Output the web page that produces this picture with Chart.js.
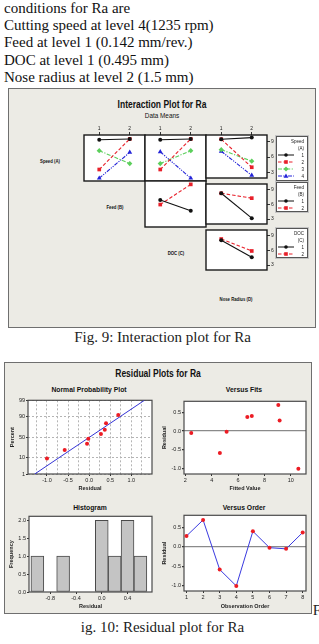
<!DOCTYPE html>
<html>
<head>
<meta charset="utf-8">
<title>Interaction and residual plots for Ra</title>
<script src="https://cdn.jsdelivr.net/npm/chart.js@4.4.1/dist/chart.umd.min.js"></script>
<style>
  body { margin: 0; width: 319px; height: 644px; position: relative; overflow: hidden; background: #fff; }
  .para { position: absolute; left: 4px; top: 0; font: 15px/17.2px "Liberation Serif", "Times New Roman", serif; color: #111; white-space: nowrap; }
  .box { position: absolute; box-sizing: border-box; background: #ecebe5; border: 1.5px solid #6f6f6f; }
  .t { position: absolute; white-space: nowrap; font-family: "Liberation Sans", Arial, sans-serif; color: #111; transform: translate(-50%, -50%) scaleX(0.85); }
  .cap { position: absolute; white-space: nowrap; font: 15px "Liberation Serif", "Times New Roman", serif; color: #222; transform: translate(-50%, -50%); }
  canvas { position: absolute; }
  .legend { position: absolute; box-sizing: border-box; background: #fff; border: 1px solid #555; box-shadow: 0 0 0 1px #c4c4c4; }
  .legend span { position: absolute; right: 3px; font: 4.5px "Liberation Sans", Arial, sans-serif; color: #222; transform: translateY(-50%); }
  .legend svg { position: absolute; left: 1px; }
</style>
</head>
<body>
<div class="para">conditions for Ra are<br>Cutting speed at level 4(1235 rpm)<br>Feed at level 1 (0.142 mm/rev.)<br>DOC at level 1 (0.495 mm)<br>Nose radius at level 2 (1.5 mm)</div>

<div class="box" style="left:8px;top:88px;width:308px;height:240px"></div>
<div class="t" style="left:162px;top:104px;font-size:10px;font-weight:bold">Interaction Plot for Ra</div>
<div class="t" style="left:162px;top:114.5px;font-size:7.5px">Data Means</div>
<div class="t" style="left:50px;top:161px;font-size:5px;font-weight:bold">Speed (A)</div>
<div class="t" style="left:114.5px;top:207px;font-size:5px;font-weight:bold">Feed (B)</div>
<div class="t" style="left:175.5px;top:253px;font-size:5px;font-weight:bold">DOC (C)</div>
<div class="t" style="left:236px;top:299px;font-size:5px;font-weight:bold">Nose Radius (D)</div>
<div class="cap" style="left:162.5px;top:337px">Fig. 9: Interaction plot for Ra</div>

<div class="box" style="left:4px;top:362px;width:308px;height:252px"></div>
<div class="t" style="left:158px;top:373.3px;font-size:10px;font-weight:bold">Residual Plots for Ra</div>
<div class="t" style="left:89px;top:389px;font-size:8px;font-weight:bold">Normal Probability Plot</div>
<div class="t" style="left:244px;top:389px;font-size:8px;font-weight:bold">Versus Fits</div>
<div class="t" style="left:89.7px;top:506.7px;font-size:8px;font-weight:bold">Histogram</div>
<div class="t" style="left:244px;top:506.7px;font-size:8px;font-weight:bold">Versus Order</div>
<div class="cap" style="left:162.5px;top:627px">ig. 10: Residual plot for Ra</div>
<div class="cap" style="left:317px;top:610px">F</div>

<script>
// mean Ra for each level of the row factor, at level 1 and 2 of the column factor
var levelLabels = ['1', '2'];
var speedByFeed = [[9.35, 9.5], [4.05, 9.5], [7.4, 5.1], [2.5, 7.1]];
var speedByDoc = [[9.35, 9.5], [4.05, 9.5], [5.1, 7.4], [7.2, 2.5]];
var speedByNose = [[9.4, 9.7], [9.4, 4.05], [7.4, 5.2], [7.1, 2.5]];
var feedByDoc = [[6.8, 4.9], [6.0, 9.6]];
var feedByNose = [[8.3, 3.2], [8.3, 7.3]];
var docByNose = [[8.1, 4.6], [8.35, 5.9]];
var speedLevels = ['1', '2', '3', '4'];
var feedLevels = ['1', '2'];
var docLevels = ['1', '2'];

// residuals, in observation order
var obsOrder = [1, 2, 3, 4, 5, 6, 7, 8];
var residByOrder = [0.28, 0.69, -0.58, -1.0, 0.4, -0.02, -0.05, 0.37];
var fittedByOrder = [9.15, 9.05, 4.62, 10.57, 7.04, 5.13, 2.45, 6.7];
var probPercent = [9, 21, 34, 46, 58, 68, 81, 92];
var probTicks = [1, 10, 50, 90, 99];
var fitLineResid = [-1.29, 1.31];
var fitLinePercent = [1, 99];
var histBins = [-1.0, -0.8, -0.6, -0.4, -0.2, 0.0, 0.2, 0.4, 0.6];
var histCounts = [1, 0, 1, 0, 0, 2, 1, 2, 1];

var seriesColors = ['#111111', '#e8202a', '#5ccf5c', '#2323d8'];
var seriesDash = [[], [3.5, 2], [4, 1.5, 1.2, 1.5], [4, 1.2, 1.2, 1.2, 1.2, 1.2]];
var seriesPoint = ['circle', 'rect', 'rectRot', 'triangle'];
var seriesRadius = [2, 2.6, 2.6, 2.8];

Chart.defaults.font.family = '"Liberation Sans", Arial, sans-serif';
Chart.defaults.color = '#222';

// white plot area with a dark frame, like minitab panels
Chart.register({
    id: 'frame',
    defaults: { fill: '#ffffff', color: '#333333', width: 1 },
    beforeDraw: function(chart, args, opts) {
        var a = chart.chartArea, ctx = chart.ctx;
        ctx.save();
        ctx.fillStyle = opts.fill;
        ctx.fillRect(a.left, a.top, a.right - a.left, a.bottom - a.top);
        ctx.restore();
    },
    beforeDatasetsDraw: function(chart, args, opts) {
        var a = chart.chartArea, ctx = chart.ctx;
        ctx.save();
        ctx.strokeStyle = opts.color;
        ctx.lineWidth = opts.width;
        ctx.strokeRect(a.left, a.top, a.right - a.left, a.bottom - a.top);
        ctx.restore();
    }
});

// normal probability axis (values in percent)
function probit(p) {
    var a = [-39.6968302866538, 220.946098424521, -275.928510446969, 138.357751867269, -30.6647980661472, 2.50662827745924];
    var b = [-54.4760987982241, 161.585836858041, -155.698979859887, 66.8013118877197, -13.2806815528857];
    var c = [-0.00778489400243029, -0.322396458041136, -2.40075827716184, -2.54973253934373, 4.37466414146497, 2.93816398269878];
    var d = [0.00778469570904146, 0.32246712907004, 2.445134137143, 3.75440866190742];
    var q, r;
    if (p < 0.02425 || p > 0.97575) {
        q = Math.sqrt(-2 * Math.log(p < 0.5 ? p : 1 - p));
        r = (((((c[0] * q + c[1]) * q + c[2]) * q + c[3]) * q + c[4]) * q + c[5]) / ((((d[0] * q + d[1]) * q + d[2]) * q + d[3]) * q + 1);
        return p < 0.5 ? r : -r;
    }
    q = p - 0.5;
    r = q * q;
    return (((((a[0] * r + a[1]) * r + a[2]) * r + a[3]) * r + a[4]) * r + a[5]) * q / (((((b[0] * r + b[1]) * r + b[2]) * r + b[3]) * r + b[4]) * r + 1);
}

class ProbabilityScale extends Chart.LinearScale {
    getPixelForValue(value) {
        var lo = probit(this.min / 100), hi = probit(this.max / 100);
        return this.getPixelForDecimal((probit(value / 100) - lo) / (hi - lo));
    }
    getValueForPixel(pixel) {
        var lo = this.min, hi = this.max;
        for (var i = 0; i < 40; i++) {
            var mid = (lo + hi) / 2;
            if ((this.getPixelForValue(mid) - pixel) * (this.getPixelForValue(hi) - pixel) > 0) hi = mid; else lo = mid;
        }
        return (lo + hi) / 2;
    }
}
ProbabilityScale.id = 'probability';
Chart.register(ProbabilityScale);

function addCanvas(left, top, w, h) {
    var c = document.createElement('canvas');
    c.width = w;
    c.height = h;
    c.style.left = left + 'px';
    c.style.top = top + 'px';
    c.style.width = w + 'px';
    c.style.height = h + 'px';
    document.body.appendChild(c);
    return c;
}

// ---------- Fig. 9 interaction panels ----------
var panelLeft = 84, panelTop = 135, panelW = 61, panelH = 46;
var topAxisH = 14, rightAxisW = 12;
var panels = [
    { row: 0, col: 0, values: speedByFeed },
    { row: 0, col: 1, values: speedByDoc },
    { row: 0, col: 2, values: speedByNose },
    { row: 1, col: 1, values: feedByDoc },
    { row: 1, col: 2, values: feedByNose },
    { row: 2, col: 2, values: docByNose }
];

panels.forEach(function(p) {
    var hasTop = p.row === 0, hasRight = p.col === 2;
    var canvas = addCanvas(
        panelLeft + p.col * panelW - 1,
        panelTop + p.row * panelH - 1 - (hasTop ? topAxisH : 0),
        panelW + 2 + (hasRight ? rightAxisW : 0),
        panelH + 2 + (hasTop ? topAxisH : 0));
    new Chart(canvas, {
        type: 'line',
        data: {
            labels: levelLabels,
            datasets: p.values.map(function(v, i) {
                return {
                    label: String(i + 1),
                    data: v,
                    borderColor: seriesColors[i],
                    backgroundColor: seriesColors[i],
                    borderWidth: 1.1,
                    borderDash: seriesDash[i],
                    pointStyle: seriesPoint[i],
                    pointRadius: seriesRadius[i],
                    pointBorderWidth: 0
                };
            })
        },
        options: {
            responsive: false,
            animation: false,
            events: [],
            layout: { padding: 1, autoPadding: false },
            plugins: {
                legend: { display: false },
                tooltip: { enabled: false },
                frame: { color: '#1a1a1a', width: 1.4 }
            },
            scales: {
                x: {
                    type: 'category',
                    position: 'top',
                    offset: true,
                    display: hasTop,
                    grid: { drawOnChartArea: false, tickLength: 3, color: '#333' },
                    border: { display: false },
                    ticks: { padding: 0, maxRotation: 0, font: { size: 5 } },
                    afterFit: function(s) { s.height = hasTop ? topAxisH : 0; }
                },
                y: {
                    type: 'linear',
                    position: 'right',
                    min: 2,
                    max: 10.2,
                    display: hasRight,
                    grid: { drawOnChartArea: false, tickLength: 3, color: '#333' },
                    border: { display: false },
                    ticks: { stepSize: 3, includeBounds: false, padding: 1, font: { size: 5 } },
                    afterFit: function(s) { s.width = hasRight ? rightAxisW : 0; }
                }
            }
        }
    });
});

// legends beside the panels
function sampleSvg(i, y) {
    var c = seriesColors[i];
    var dash = seriesDash[i].length ? ' stroke-dasharray="' + seriesDash[i].join(',') + '"' : '';
    var marks = [
        '<circle cx="8" cy="3" r="1.8" fill="' + c + '"/>',
        '<rect x="6.2" y="1.2" width="3.6" height="3.6" fill="' + c + '"/>',
        '<polygon points="8,0.5 10.5,3 8,5.5 5.5,3" fill="' + c + '"/>',
        '<polygon points="8,0.6 10.4,4.8 5.6,4.8" fill="' + c + '"/>'
    ];
    var wrap = document.createElement('div');
    wrap.innerHTML = '<svg width="17" height="6" viewBox="0 0 17 6"><line x1="0" y1="3" x2="16" y2="3" stroke="' + c + '" stroke-width="1"' + dash + '/>' + marks[i] + '</svg>';
    var svg = wrap.firstChild;
    svg.style.top = (y - 3) + 'px';
    return svg;
}

function addLegendText(box, text, y) {
    var s = document.createElement('span');
    s.textContent = text;
    s.style.top = y + 'px';
    box.appendChild(s);
}

var legends = [
    { title: 'Speed', sub: '(A)', labels: speedLevels, top: 136, height: 45 },
    { title: 'Feed', sub: '(B)', labels: feedLevels, top: 182, height: 30 },
    { title: 'DOC', sub: '(C)', labels: docLevels, top: 228, height: 30 }
];
legends.forEach(function(L) {
    var box = document.createElement('div');
    box.className = 'legend';
    box.style.left = '276px';
    box.style.top = L.top + 'px';
    box.style.width = '32px';
    box.style.height = L.height + 'px';
    addLegendText(box, L.title, 3.7);
    addLegendText(box, L.sub, 10.8);
    L.labels.forEach(function(lab, i) {
        var y = 17.5 + i * 7.3;
        addLegendText(box, lab, y);
        box.appendChild(sampleSvg(i, y));
    });
    document.body.appendChild(box);
});

// ---------- Fig. 10 residual plots ----------
function residualAxis(fitProp, fitSize, extra) {
    var base = {
        type: 'linear',
        border: { display: false },
        grid: { drawOnChartArea: false, tickLength: 2, color: '#333', tickColor: '#333' },
        ticks: { font: { size: 5.5 }, padding: 1, autoSkip: false, maxRotation: 0, includeBounds: false, color: '#222' },
        title: { display: true, font: { size: 5.5, weight: 'bold' }, color: '#222' },
        afterFit: function(s) { s[fitProp] = fitSize; }
    };
    return Chart.helpers.merge({}, [base, extra]);
}

function residualOptions(padding, x, y) {
    padding.left = padding.left || 0;
    padding.bottom = padding.bottom || 0;
    return {
        responsive: false,
        animation: false,
        events: [],
        layout: { padding: padding, autoPadding: false },
        plugins: {
            legend: { display: false },
            tooltip: { enabled: false },
            frame: { color: '#4a4a4a', width: 1.2 }
        },
        scales: { x: x, y: y }
    };
}

function oneDecimal(v) { return Number(v).toFixed(1); }
function isHalfStep(v) { return Math.abs(v * 2 - Math.round(v * 2)) < 1e-6; }
function zeroLine(ctx) { return ctx.tick && ctx.tick.value === 0 ? '#8a8a8a' : 'rgba(0,0,0,0)'; }

var sortedResid = residByOrder.slice().sort(function(a, b) { return a - b; });

// Normal probability plot
new Chart(addCanvas(6, 396, 152, 98), {
    type: 'scatter',
    data: {
        datasets: [{
            data: sortedResid.map(function(r, i) { return { x: r, y: probPercent[i] }; }),
            backgroundColor: '#ec1c24',
            pointRadius: 2,
            pointBorderWidth: 0
        }, {
            data: fitLineResid.map(function(r, i) { return { x: r, y: fitLinePercent[i] }; }),
            showLine: true,
            borderColor: '#3434d6',
            borderWidth: 1,
            pointRadius: 0
        }]
    },
    options: residualOptions({ top: 4, right: 6 },
        residualAxis('height', 20, {
            min: -1.45, max: 1.49,
            ticks: { stepSize: 0.25, callback: function(v) { return isHalfStep(v) ? v.toFixed(1) : ''; } },
            grid: {
                drawOnChartArea: true, color: '#b4b4b4',
                tickColor: function(ctx) { return isHalfStep(ctx.tick.value) ? '#333' : 'rgba(0,0,0,0)'; }
            },
            border: { dash: [2, 2] },
            title: { text: 'Residual', padding: { top: 0, bottom: 2 } }
        }),
        residualAxis('width', 22, {
            type: 'probability', min: 1, max: 99,
            afterBuildTicks: function(s) { s.ticks = probTicks.map(function(v) { return { value: v }; }); },
            ticks: { callback: function(v) { return String(v); } },
            grid: { drawOnChartArea: true, color: '#b4b4b4' },
            border: { dash: [2, 2] },
            title: { text: 'Percent', padding: { top: 3, bottom: 0 } }
        }))
});

// Versus fits
new Chart(addCanvas(160, 397, 150, 97), {
    type: 'scatter',
    data: {
        datasets: [{
            data: fittedByOrder.map(function(f, i) { return { x: f, y: residByOrder[i] }; }),
            backgroundColor: '#ec1c24',
            pointRadius: 2,
            pointBorderWidth: 0
        }]
    },
    options: residualOptions({ top: 4, right: 4 },
        residualAxis('height', 20, {
            min: 1.9, max: 11.15,
            ticks: { stepSize: 2 },
            title: { text: 'Fitted Value', padding: { top: 0, bottom: 2 } }
        }),
        residualAxis('width', 24, {
            min: -1.14, max: 0.79,
            ticks: { stepSize: 0.5, callback: oneDecimal },
            grid: { drawOnChartArea: true, color: zeroLine, lineWidth: 1.2 },
            title: { text: 'Residual', padding: { top: 1, bottom: 0 } }
        }))
});

// Histogram
new Chart(addCanvas(6, 512, 152, 100), {
    type: 'bar',
    data: {
        datasets: [{
            data: histBins.map(function(b, i) { return { x: b, y: histCounts[i] }; }),
            backgroundColor: '#c4c4c4',
            borderColor: '#4a4a4a',
            borderWidth: 1,
            borderSkipped: false,
            barPercentage: 1,
            categoryPercentage: 1
        }]
    },
    options: residualOptions({ top: 4, right: 6 },
        residualAxis('height', 20, {
            min: -1.13, max: 0.78,
            offset: false,
            grid: { offset: false },
            ticks: { stepSize: 0.4, callback: oneDecimal },
            title: { text: 'Residual', padding: { top: 0, bottom: 2 } }
        }),
        residualAxis('width', 23, {
            min: 0, max: 2.11,
            ticks: { stepSize: 0.5, callback: oneDecimal },
            title: { text: 'Frequency', padding: { top: 2, bottom: 0 } }
        }))
});

// Versus order
new Chart(addCanvas(160, 511, 150, 101), {
    type: 'scatter',
    data: {
        datasets: [{
            data: obsOrder.map(function(o, i) { return { x: o, y: residByOrder[i] }; }),
            showLine: true,
            borderColor: '#3a3ae0',
            borderWidth: 1,
            backgroundColor: '#ec1c24',
            pointRadius: 2,
            pointBorderWidth: 0
        }]
    },
    options: residualOptions({ top: 4, right: 4 },
        residualAxis('height', 21, {
            min: 0.85, max: 8.2,
            ticks: { stepSize: 1 },
            title: { text: 'Observation Order', padding: { top: 0, bottom: 2 } }
        }),
        residualAxis('width', 24, {
            min: -1.13, max: 0.81,
            ticks: { stepSize: 0.5, callback: oneDecimal },
            grid: { drawOnChartArea: true, color: zeroLine, lineWidth: 1.2 },
            title: { text: 'Residual', padding: { top: 1, bottom: 0 } }
        }))
});
</script>
</body>
</html>
